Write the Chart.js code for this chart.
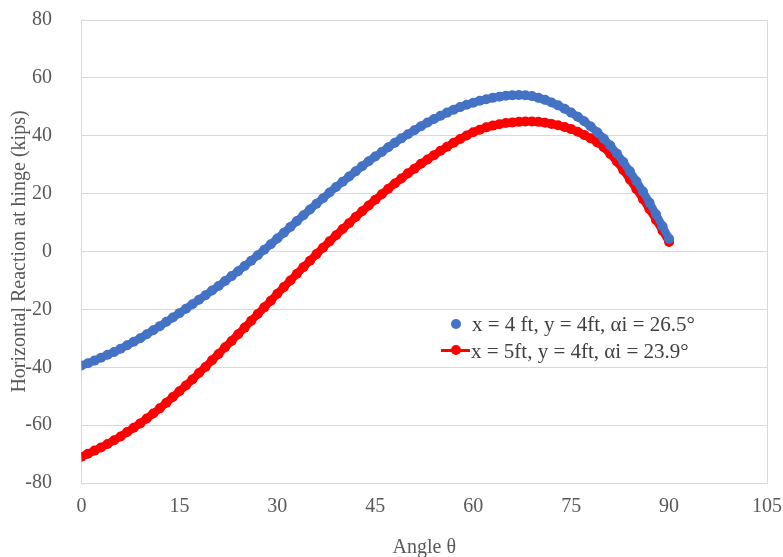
<!DOCTYPE html>
<html>
<head>
<meta charset="utf-8">
<script src="https://cdn.jsdelivr.net/npm/chart.js@4.4.1/dist/chart.umd.min.js"></script>
<style>
  body { margin: 0; background: #fff; }
  #wrap { position: relative; width: 783px; height: 557px; }
  .lg { position: absolute; font-family: 'Liberation Serif', 'Times New Roman', serif; font-size: 21px; line-height: 24px; color: #404040; white-space: nowrap; }
  .dot { position: absolute; width: 10px; height: 10px; border-radius: 50%; }
  .bar { position: absolute; height: 3px; background: #ff0000; }
</style>
</head>
<body>
<div id="wrap">
  <canvas id="reactionChart"></canvas>
  <!-- legend -->
  <div class="dot" style="left:451px; top:319px; background:#4472c4;"></div>
  <div class="lg" style="left:472px; top:312px;">x = 4 ft, y = 4ft, αi = 26.5°</div>
  <div class="bar" style="left:441px; top:349px; width:29px;"></div>
  <div class="dot" style="left:451px; top:345px; background:#ff0000;"></div>
  <div class="lg" style="left:471px; top:339px;">x = 5ft, y = 4ft, αi = 23.9°</div>
</div>
<script>
// angle theta, degrees
const angles = [
  0, 1, 2, 3, 4, 5, 6, 7, 8, 9, 10, 11, 12, 13, 14, 15, 16, 17, 18, 19, 20,
  21, 22, 23, 24, 25, 26, 27, 28, 29, 30, 31, 32, 33, 34, 35, 36, 37, 38, 39, 40,
  41, 42, 43, 44, 45, 46, 47, 48, 49, 50, 51, 52, 53, 54, 55, 56, 57, 58, 59, 60,
  61, 62, 63, 64, 65, 66, 67, 68, 69, 70, 71, 72, 73, 74, 75, 76, 77, 78, 79, 80,
  81, 82, 83, 84, 85, 86, 87, 88, 89, 90
];

// x = 4 ft, y = 4 ft (kips)
const reaction4ft = [
  -39.4, -38.6, -37.7, -36.7, -35.7, -34.7, -33.6, -32.4, -31.2, -30.0, -28.6,
  -27.2, -25.8, -24.3, -22.8, -21.3, -19.8, -18.2, -16.7, -15.1, -13.5,
  -11.9, -10.2, -8.5, -6.8, -5.0, -3.2, -1.3, 0.6, 2.5, 4.5,
  6.5, 8.5, 10.5, 12.5, 14.5, 16.5, 18.4, 20.4, 22.3, 24.1,
  25.9, 27.7, 29.5, 31.2, 32.8, 34.4, 36.0, 37.6, 39.1, 40.5,
  41.9, 43.3, 44.6, 45.8, 46.9, 48.0, 49.0, 49.9, 50.7, 51.4,
  52.1, 52.6, 53.1, 53.5, 53.8, 54.0, 54.1, 54.0, 53.7, 53.1,
  52.4, 51.5, 50.5, 49.3, 48.0, 46.6, 45.0, 43.2, 41.2, 39.0,
  36.6, 33.9, 30.9, 27.7, 24.3, 20.7, 16.9, 12.9, 8.7, 4.4
];

// x = 5 ft, y = 4 ft (kips)
const reaction5ft = [
  -70.9, -69.9, -68.8, -67.7, -66.5, -65.2, -63.9, -62.4, -60.9, -59.4, -57.7,
  -56.0, -54.2, -52.3, -50.3, -48.3, -46.3, -44.2, -42.0, -39.9, -37.6,
  -35.4, -33.1, -30.9, -28.6, -26.3, -23.9, -21.6, -19.3, -17.0, -14.6,
  -12.3, -10.0, -7.7, -5.4, -3.2, -0.9, 1.3, 3.5, 5.6, 7.8,
  9.8, 11.9, 13.9, 15.9, 17.9, 19.8, 21.7, 23.5, 25.2, 27.0,
  28.6, 30.3, 31.8, 33.3, 34.8, 36.2, 37.6, 38.9, 40.1, 41.2,
  42.1, 42.9, 43.5, 44.0, 44.4, 44.6, 44.8, 44.9, 44.9, 44.8,
  44.5, 44.1, 43.6, 43.0, 42.3, 41.4, 40.3, 39.1, 37.7, 36.0,
  33.7, 31.1, 28.1, 24.9, 21.5, 18.1, 14.6, 10.9, 7.2, 3.3
];

const xTicks = [0, 15, 30, 45, 60, 75, 90, 105];
const yTicks = [-80, -60, -40, -20, 0, 20, 40, 60, 80];

const serif = "'Liberation Serif', 'Times New Roman', serif";
const gridGray = '#d9d9d9';
const labelGray = '#595959';
const clear = 'rgba(0,0,0,0)';

const toPoints = values => angles.map((a, i) => ({ x: a, y: values[i] }));

const ctx = document.getElementById('reactionChart').getContext('2d');
const reactionChart = new Chart(ctx, {
  type: 'scatter',
  data: {
    datasets: [
      {
        label: 'x = 4 ft, y = 4ft, αi = 26.5°',
        data: toPoints(reaction4ft),
        // markers are dense in the original, a same colour band fills between them
        showLine: true,
        borderColor: '#4472c4',
        borderWidth: 8,
        pointRadius: 5,
        pointBorderWidth: 0,
        pointBackgroundColor: '#4472c4'
      },
      {
        label: 'x = 5ft, y = 4ft, αi = 23.9°',
        data: toPoints(reaction5ft),
        showLine: true,
        borderColor: '#ff0000',
        borderWidth: 8,
        pointRadius: 5,
        pointBorderWidth: 0,
        pointBackgroundColor: '#ff0000'
      }
    ]
  },
  options: {
    responsive: true,
    maintainAspectRatio: false,
    animation: false,
    layout: { padding: { left: 0, right: 16, top: 20, bottom: 0 } },
    plugins: {
      legend: { display: false },
      tooltip: { enabled: false }
    },
    scales: {
      x: {
        type: 'linear',
        min: xTicks[0],
        max: xTicks[xTicks.length - 1],
        afterBuildTicks: axis => { axis.ticks = xTicks.map(v => ({ value: v })); },
        grid: {
          drawTicks: true,
          tickLength: 11,
          tickColor: clear,
          color: c => (c.tick && c.tick.value === 105 ? gridGray : clear)
        },
        border: { color: gridGray },
        ticks: { padding: 1, color: labelGray, font: { family: serif, size: 20 } },
        title: {
          display: true,
          text: 'Angle θ',
          color: labelGray,
          padding: { top: 18, bottom: -1 },
          font: { family: serif, size: 20, lineHeight: 1 }
        }
      },
      y: {
        min: yTicks[0],
        max: yTicks[yTicks.length - 1],
        afterBuildTicks: axis => { axis.ticks = yTicks.map(v => ({ value: v })); },
        grid: { drawTicks: true, tickLength: 26.5, tickColor: clear, color: gridGray },
        border: { color: gridGray },
        ticks: { padding: 3, color: labelGray, font: { family: serif, size: 20 } },
        title: {
          display: true,
          text: 'Horizontal Reaction at hinge (kips)',
          color: labelGray,
          padding: { top: 10, bottom: -7.7 },
          font: { family: serif, size: 20, lineHeight: 1 }
        }
      }
    }
  }
});
</script>
</body>
</html>
